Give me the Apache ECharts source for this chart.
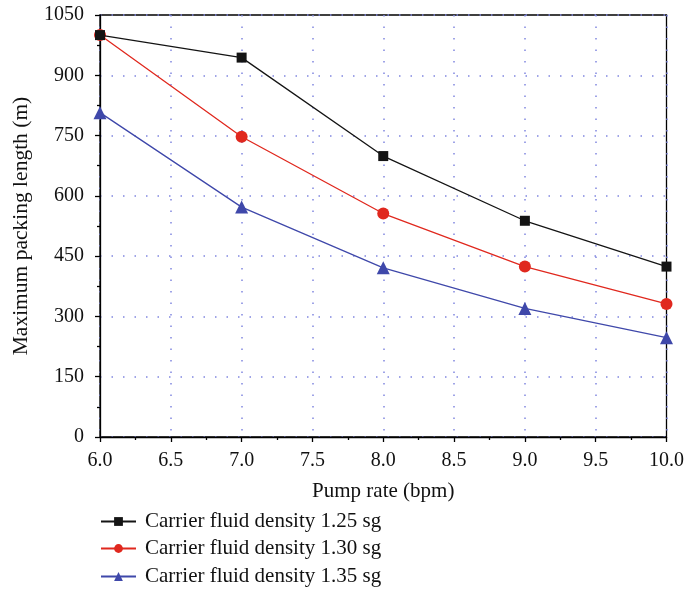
<!DOCTYPE html>
<html>
<head>
<meta charset="utf-8">
<script src="https://cdn.jsdelivr.net/npm/echarts@6/dist/echarts.min.js"></script>
<style>html,body{margin:0;padding:0;background:#fff}#c{width:687px;height:592px}</style>
</head>
<body>
<div id="c"></div>
<script>
const pumpRates = [6.0, 7.0, 8.0, 9.0, 10.0];
const density125 = [1000, 944, 699, 538, 424];
const density130 = [1000, 747, 556, 424, 331];
const density135 = [807, 572, 421, 320, 247];
const seriesNames = ['Carrier fluid density 1.25 sg', 'Carrier fluid density 1.30 sg', 'Carrier fluid density 1.35 sg'];

const font = 'Liberation Serif';
const chart = echarts.init(document.getElementById('c'));
function pairs(vals){ return pumpRates.map((x,i)=>[x, vals[i]]); }
const colors = ['#141414', '#e0281e', '#3f48aa'];
const symbols = ['rect', 'circle', 'triangle'];
const sizes = [10, 12, 13];
const datasets = [density125, density130, density135];
const legendTops = [511, 538, 566];

chart.setOption({
  animation: false,
  backgroundColor: '#fff',
  grid: {left: 100, right: 19, top: 15, bottom: 155, show: true, borderColor: '#000', borderWidth: 1.3},
  legend: seriesNames.map((n, i) => ({
    orient: 'vertical', left: 100, top: legendTops[i], padding: 0, itemWidth: 35, itemHeight: 11,
    textStyle: {fontFamily: font, fontSize: 21, color: '#111', padding: [0, 0, 0, 4]},
    data: [n]
  })),
  xAxis: {
    type: 'value', min: 6, max: 10, interval: 0.5,
    name: 'Pump rate (bpm)', nameLocation: 'middle', nameGap: 44,
    nameTextStyle: {fontFamily: font, fontSize: 21, color: '#111'},
    axisLine: {show: true, lineStyle: {color: '#000', width: 1.3}},
    axisTick: {show: true, length: 5, lineStyle: {color: '#000', width: 1.3}},
    minorTick: {show: true, splitNumber: 2, length: 3, lineStyle: {color: '#000', width: 1.3}},
    axisLabel: {fontFamily: font, fontSize: 20, color: '#111', margin: 14, formatter: v => v.toFixed(1)},
    splitLine: {show: true, lineStyle: {color: '#8086e0', type: [1.5, 10], width: 1.5}}
  },
  yAxis: {
    type: 'value', min: 0, max: 1050, interval: 150,
    name: 'Maximum packing length (m)', nameLocation: 'middle', nameGap: 68,
    nameTextStyle: {fontFamily: font, fontSize: 21.5, color: '#111'},
    axisLine: {show: true, lineStyle: {color: '#000', width: 1.3}},
    axisTick: {show: true, length: 5, lineStyle: {color: '#000', width: 1.3}},
    minorTick: {show: true, splitNumber: 2, length: 3, lineStyle: {color: '#000', width: 1.3}},
    axisLabel: {fontFamily: font, fontSize: 20, color: '#111', margin: 16, formatter: v => String(v)},
    splitLine: {show: true, lineStyle: {color: '#8086e0', type: [1.5, 10], width: 1.5}}
  },
  series: datasets.map((d, i) => ({
    name: seriesNames[i], type: 'line', data: pairs(d),
    symbol: symbols[i], symbolSize: sizes[i], showSymbol: true,
    lineStyle: {color: colors[i], width: 1.3},
    itemStyle: {color: colors[i]},
    z: 3 - i
  }))
});
</script>
</body>
</html>
